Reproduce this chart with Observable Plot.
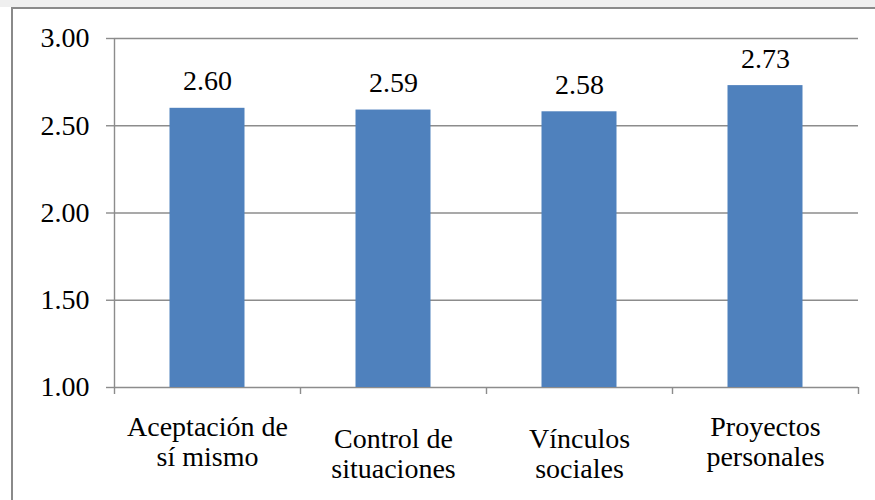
<!DOCTYPE html>
<html>
<head>
<meta charset="utf-8">
<script src="https://cdn.jsdelivr.net/npm/d3@7"></script>
<script src="https://cdn.jsdelivr.net/npm/@observablehq/plot@0.6"></script>
<style>
  html, body { margin: 0; padding: 0; background: #fff; overflow: hidden; width: 875px; height: 500px; }
  #wrap { position: relative; width: 875px; height: 500px; overflow: hidden; background: #fff; }
  #strip { position: absolute; left: 0; top: 0; width: 875px; height: 7px; background: #efefef; }
  #hline { position: absolute; left: 11px; top: 7px; width: 864px; height: 2px; background: #8a8a8a; }
  #vline { position: absolute; left: 11px; top: 7px; width: 2px; height: 493px; background: #8a8a8a; }
  #chart { position: absolute; left: 0; top: 0; width: 875px; height: 500px; overflow: hidden; }
  #chart svg { display: block; max-width: none; }
  #cover { position: absolute; left: 866px; top: 9px; width: 9px; height: 491px; background: #fff; z-index: 10; }
</style>
</head>
<body>
<div id="wrap">
  <div id="strip"></div>
  <div id="hline"></div>
  <div id="vline"></div>
  <div id="chart"></div>
  <div id="cover"></div>
</div>
<script>
const categories = ["Aceptación de sí mismo", "Control de situaciones", "Vínculos sociales", "Proyectos personales"];
const values = [2.60, 2.59, 2.58, 2.73];
const labelLines = ["Aceptación de\nsí mismo", "Control de\nsituaciones", "Vínculos\nsociales", "Proyectos\npersonales"];
const yTicks = [1.00, 1.50, 2.00, 2.50, 3.00];

const data = categories.map((c, i) => ({category: c, value: values[i], label: labelLines[i]}));

const W = 875, H = 500, mL = 114, mR = 17, mT = 38, mB = 113;
const half = (W - mL - mR) / categories.length / 2;
const gray = "#8c8c8c";
const FONT = "Liberation Serif";
const FS = 28;
const LH = 30 / FS;
const outer = new Set([categories[0], categories[3]]);

const chart = Plot.plot({
  width: W, height: H,
  marginLeft: mL, marginRight: mR, marginTop: mT, marginBottom: mB,
  style: {background: "transparent", color: "#000", fontFamily: FONT, fontSize: FS + "px"},
  x: {type: "band", domain: categories, padding: 0, axis: null},
  y: {domain: [1, 3], axis: null},
  marks: [
    Plot.ruleY(yTicks, {stroke: gray, strokeWidth: 1.4}),
    Plot.axisY({ticks: yTicks, tickFormat: d => d.toFixed(2), tickSize: 8, tickPadding: 17, stroke: gray, fill: "#000", label: null, strokeWidth: 1.4, fontFamily: FONT, fontSize: FS}),
    Plot.ruleX(categories.slice(0, 1), {x: d => d, dx: -half, stroke: gray, strokeWidth: 1.4}),
    Plot.barY(data, {x: "category", y1: 1, y2: "value", fill: "#4F81BD", insetLeft: 55.5, insetRight: 55.5}),
    Plot.ruleX(categories, {x: d => d, dx: -half, y1: 1, y2: 1, insetBottom: -7, stroke: gray, strokeWidth: 1.4}),
    Plot.ruleX(categories.slice(-1), {x: d => d, dx: half, y1: 1, y2: 1, insetBottom: -7, stroke: gray, strokeWidth: 1.4}),
    Plot.text(data, {x: "category", y: "value", text: d => d.value.toFixed(2), lineAnchor: "bottom", dy: -18, fill: "#000", fontFamily: FONT, fontSize: FS}),
    Plot.text(data.filter(d => outer.has(d.category)), {x: "category", frameAnchor: "bottom", text: "label", lineAnchor: "top", dy: 27, lineHeight: LH, fill: "#000", fontFamily: FONT, fontSize: FS}),
    Plot.text(data.filter(d => !outer.has(d.category)), {x: "category", frameAnchor: "bottom", text: "label", lineAnchor: "top", dy: 39, lineHeight: LH, fill: "#000", fontFamily: FONT, fontSize: FS})
  ]
});
document.getElementById("chart").appendChild(chart);
</script>
</body>
</html>
